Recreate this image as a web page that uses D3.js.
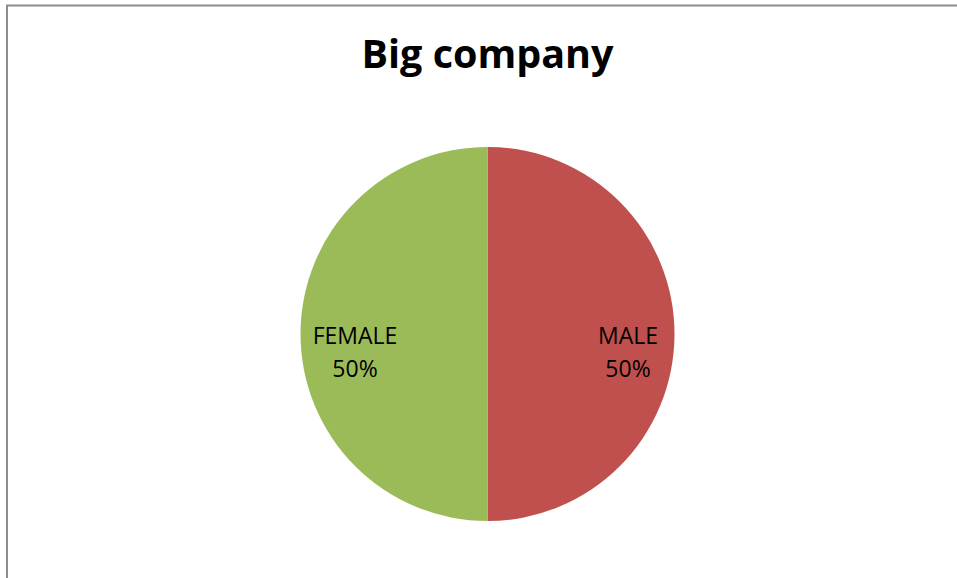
<!DOCTYPE html>
<html>
<head>
<meta charset="utf-8">
<script src="https://cdn.jsdelivr.net/npm/d3@7"></script>
<style>
  html, body { margin: 0; padding: 0; background: #fff; }
  svg { display: block; }
</style>
</head>
<body>
<svg id="chart" width="957" height="578"></svg>
<script>
const title = "Big company";
const categories = ["MALE", "FEMALE"];
const values = [50, 50];
const colors = ["#C0504D", "#9BBB59"];

const svg = d3.select("#chart");
const W = 957, H = 578;

// chart area border (extends beyond the right/bottom edges)
svg.append("rect")
  .attr("x", 7).attr("y", 5.5)
  .attr("width", W + 10).attr("height", H + 10)
  .attr("fill", "#fff")
  .attr("stroke", "#8c8c8c")
  .attr("stroke-width", 2);

svg.append("text")
  .attr("x", 487.5).attr("y", 68)
  .attr("text-anchor", "middle")
  .attr("font-family", "'Open Sans', sans-serif")
  .attr("font-weight", "bold")
  .attr("font-size", 39.5)
  .attr("fill", "#000")
  .text(title);

const cx = 487.5, cy = 334, r = 187;
const data = categories.map((c, i) => ({ cat: c, value: values[i], color: colors[i] }));
const total = d3.sum(values);

const pie = d3.pie().value(d => d.value).sort(null);
const arc = d3.arc().innerRadius(0).outerRadius(r);
const labelArc = d3.arc().innerRadius(r * 0.73).outerRadius(r * 0.73);

const g = svg.append("g").attr("transform", `translate(${cx},${cy})`);
const arcs = pie(data);

g.selectAll("path.slice")
  .data(arcs)
  .enter().append("path")
  .attr("class", "slice")
  .attr("d", arc)
  .attr("fill", d => d.data.color);

const lbl = g.selectAll("text.lbl")
  .data(arcs)
  .enter().append("text")
  .attr("class", "lbl")
  .attr("text-anchor", "middle")
  .attr("font-family", "'Open Sans', sans-serif")
  .attr("font-size", 23)
  .attr("fill", "#000")
  .attr("transform", d => {
    const [x, y] = labelArc.centroid(d);
    return `translate(${x + 4},${y})`;
  });

lbl.append("tspan").attr("x", 0).attr("y", 10).text(d => d.data.cat);
lbl.append("tspan").attr("x", 0).attr("y", 43)
  .text(d => Math.round(d.data.value / total * 100) + "%");
</script>
</body>
</html>
